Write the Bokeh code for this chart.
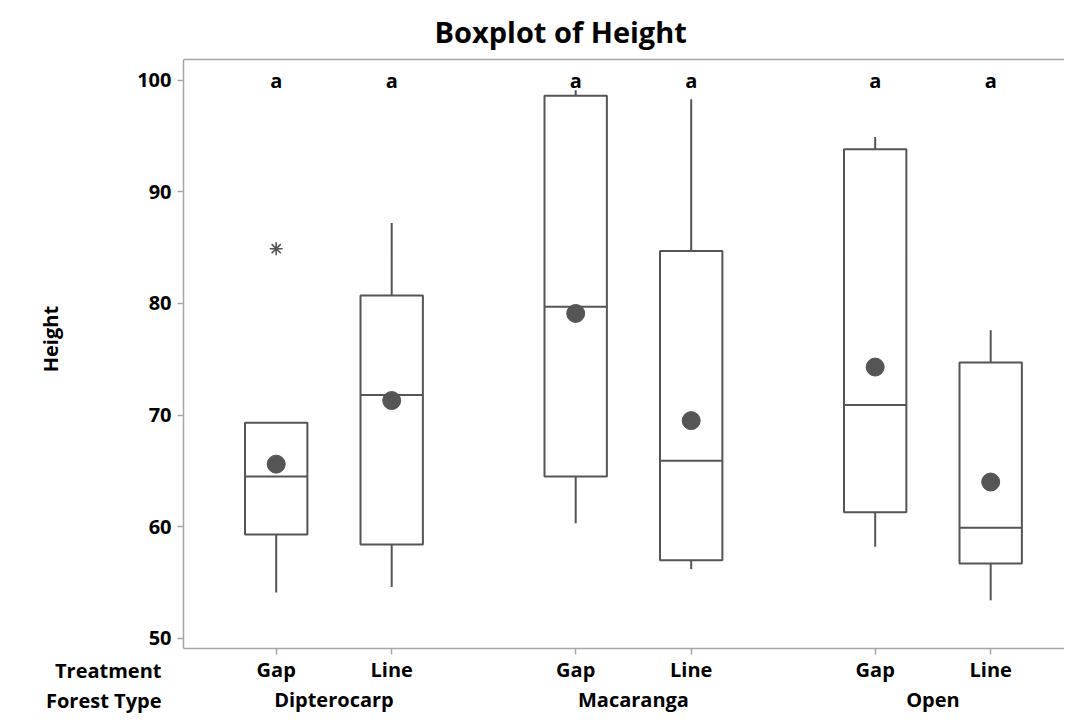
import math
from bokeh.plotting import figure
from bokeh.models import Range1d, LinearAxis, FixedTicker, ColumnDataSource
from bokeh.core.properties import value
from bokeh.embed import file_html
from bokeh.resources import INLINE

# ---------------- data ----------------
forest_types = ["Dipterocarp", "Macaranga", "Open"]
treatments = ["Gap", "Line"]
whisker_low = [54.1, 54.6, 60.3, 56.2, 58.2, 53.4]
q1 = [59.3, 58.4, 64.5, 57.0, 61.3, 56.7]
median = [64.5, 71.8, 79.7, 65.9, 70.9, 59.9]
q3 = [69.3, 80.7, 98.6, 84.7, 93.8, 74.7]
whisker_high = [69.3, 87.2, 99.1, 98.3, 94.9, 77.6]
means = [65.6, 71.3, 79.1, 69.5, 74.3, 64.0]
outlier_box = [0]
outlier_values = [84.9]
letters = ["a", "a", "a", "a", "a", "a"]
y_ticks = [50, 60, 70, 80, 90, 100]
row_titles = ["Treatment", "Forest Type"]
y_title = "Height"
chart_title = "Boxplot of Height"

# ---------------- layout ----------------
FONT = "Open Sans"
W, H = 1064, 715
TOP = 58                 # px, top of plotting frame
PX_X = 115.5             # px per x unit
X0_PX = 275.7            # px position of first box
AXIS_PX = 183            # px position of left axis line
PX_Y = 11.18             # px per y unit
Y_TOP = 101.85           # data value at frame top
Y_AXIS_BOTTOM = 49.1     # data value at bottom axis line
GROUP_STRIDE = 2.593
HALF = 0.27
BOX_COLOR = "#555555"
FRAME_COLOR = "#a6a6a6"
ROW1_PX, ROW2_PX = 669.5, 700

def px_to_x(px):
    return (px - X0_PX) / PX_X

def px_to_y(px):
    return Y_TOP - (px - TOP) / PX_Y

x_start, x_end = px_to_x(0), px_to_x(W)
y_start = px_to_y(H)
x_axis_at = px_to_x(AXIS_PX)

pos = [g * GROUP_STRIDE + t for g in range(len(forest_types)) for t in range(len(treatments))]
tick_labels = [t for _ in forest_types for t in treatments]
group_centers = [g * GROUP_STRIDE + (len(treatments) - 1) / 2 for g in range(len(forest_types))]

src = ColumnDataSource(dict(
    x=pos, x0=[p - HALF for p in pos], x1=[p + HALF for p in pos],
    lo=whisker_low, q1=q1, med=median, q3=q3, hi=whisker_high, mean=means,
    letter=letters, ytop=[max(y_ticks)] * len(pos),
))

p = figure(width=W, height=H, output_backend="svg", toolbar_location=None,
           x_range=Range1d(x_start, x_end), y_range=Range1d(y_start, Y_TOP),
           min_border_left=0, min_border_right=0, min_border_top=TOP, min_border_bottom=0,
           x_axis_location=None, y_axis_location=None, title=chart_title)
p.outline_line_color = None
p.xgrid.visible = False
p.ygrid.visible = False
p.background_fill_color = "white"
p.border_fill_color = "white"

p.title.align = "left"
p.title.offset = 251 + AXIS_PX
p.title.standoff = 18
p.title.text_font = FONT
p.title.text_font_size = "29px"
p.title.text_font_style = "bold"
p.title.text_color = "black"

LW = 2
# whiskers
p.segment(x0="x", y0="q3", x1="x", y1="hi", source=src, line_color=BOX_COLOR, line_width=LW)
p.segment(x0="x", y0="lo", x1="x", y1="q1", source=src, line_color=BOX_COLOR, line_width=LW)
# boxes
p.vbar(x="x", width=2 * HALF, bottom="q1", top="q3", source=src,
       fill_color="white", line_color=BOX_COLOR, line_width=LW)
# medians
p.segment(x0="x0", y0="med", x1="x1", y1="med", source=src, line_color=BOX_COLOR, line_width=LW)
# means
p.scatter(x="x", y="mean", source=src, size=18, marker="circle",
          fill_color=BOX_COLOR, line_color=BOX_COLOR)
# outliers
p.scatter(x=[pos[i] for i in outlier_box], y=outlier_values, marker="asterisk",
          size=13, line_color=BOX_COLOR, line_width=1.6)
# grouping letters
p.text(x="x", y="ytop", text="letter", source=src, text_align="center",
       text_baseline="middle", text_font=value(FONT), text_font_size="20px",
       text_font_style="bold", text_color="black")

def style_labels(ax):
    ax.major_label_text_font = FONT
    ax.major_label_text_font_size = "20px"
    ax.major_label_text_font_style = "bold"
    ax.major_label_text_color = "black"
    ax.minor_tick_line_color = None

# y axis (drawn at the left edge of the box area)
yax = LinearAxis(ticker=FixedTicker(ticks=y_ticks), fixed_location=x_axis_at,
                 bounds=(Y_AXIS_BOTTOM, Y_TOP))
yax.axis_line_color = FRAME_COLOR
yax.axis_line_width = 1.5
yax.major_tick_line_color = FRAME_COLOR
yax.major_tick_line_width = 1.5
yax.major_tick_out = 6
yax.major_tick_in = 0
yax.major_label_standoff = 6
style_labels(yax)
p.add_layout(yax, "left")

# x axis (treatment)
xax = LinearAxis(ticker=FixedTicker(ticks=pos), fixed_location=Y_AXIS_BOTTOM,
                 bounds=(x_axis_at, x_end),
                 major_label_overrides={pp: lab for pp, lab in zip(pos, tick_labels)})
xax.axis_line_color = FRAME_COLOR
xax.axis_line_width = 1.5
xax.major_tick_line_color = FRAME_COLOR
xax.major_tick_line_width = 1.5
xax.major_tick_out = 6
xax.major_tick_in = 0
xax.major_label_standoff = 2
style_labels(xax)
p.add_layout(xax, "below")

# x axis (forest type)
gax = LinearAxis(ticker=FixedTicker(ticks=group_centers), fixed_location=Y_AXIS_BOTTOM,
                 major_label_overrides={c: lab for c, lab in zip(group_centers, forest_types)})
gax.axis_line_color = None
gax.major_tick_line_color = None
gax.major_tick_out = 0
gax.major_tick_in = 0
gax.major_label_standoff = 38
style_labels(gax)
p.add_layout(gax, "below")

# top frame line
tax = LinearAxis(ticker=FixedTicker(ticks=[]), bounds=(x_axis_at, x_end))
tax.axis_line_color = FRAME_COLOR
tax.axis_line_width = 1.5
tax.major_tick_line_color = None
tax.minor_tick_line_color = None
tax.major_label_text_font_size = "0px"
p.add_layout(tax, "above")

# row titles for the two x-axis levels
p.text(x=[px_to_x(161)] * 2, y=[px_to_y(ROW1_PX), px_to_y(ROW2_PX)], text=row_titles,
       text_align="right", text_baseline="middle", text_font=value(FONT),
       text_font_size="20px", text_font_style="bold", text_color="black")

# y axis title
p.text(x=[px_to_x(50)], y=[px_to_y(338)], text=[y_title], angle=math.pi / 2,
       text_align="center", text_baseline="middle", text_font=value(FONT),
       text_font_size="20px", text_font_style="bold", text_color="black")

open("out.html", "w").write(file_html(p, INLINE))
